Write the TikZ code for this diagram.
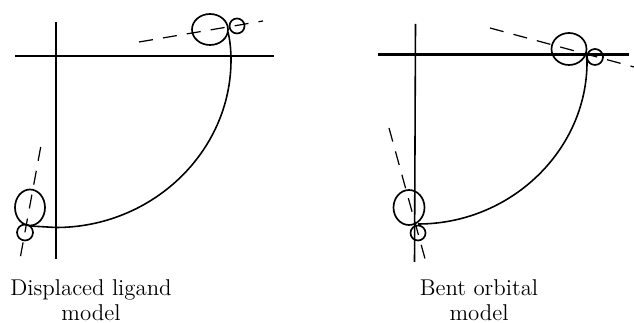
\documentclass[tikz,border=0pt]{standalone}
\usepackage{tikz}
\usetikzlibrary{shapes.geometric}
\tikzset{
  axisline/.style ={draw,line width=1.15pt},
  axislinev/.style={draw,line width=0.9pt},
  lobe/.style     ={draw,ellipse,inner sep=0pt,line width=0.95pt},
  bondaxis/.style ={draw,line width=0.7pt,dash pattern=on 8pt off 5.8pt},
  orbital/.style  ={draw,line width=0.9pt},
  caption/.style  ={font=\fontsize{13}{15}\selectfont,inner sep=0pt},
}

\begin{document}
\begin{tikzpicture}[x=0.02cm,y=-0.02cm]
\useasboundingbox (0,0) rectangle (634,323);

% displaced ligand
\coordinate (lxa) at (15,56);
\coordinate (lxb) at (274,56);
\coordinate (lya) at (56,22);
\coordinate (lyb) at (56,259);
\draw[axisline] (lxa) -- (lxb);
\draw[axislinev] (lya) -- (lyb);

\node[lobe,minimum width=36*0.02cm,minimum height=31*0.02cm] (ltop) at (210,29.5) {};
\node[lobe,minimum width=15*0.02cm,minimum height=15*0.02cm] (ltops) at (237,26) {};
\node[lobe,minimum width=30*0.02cm,minimum height=36*0.02cm] (lbot) at (30,207.5) {};
\node[lobe,minimum width=16*0.02cm,minimum height=16*0.02cm] (lbots) at (25,232.5) {};

\coordinate (ltopa) at (139,42);
\coordinate (ltopb) at (263,21);
\coordinate (lbota) at (40.7,147);
\coordinate (lbotb) at (20,259);
\draw[bondaxis] (ltopa) -- (ltopb);
\draw[bondaxis] (lbota) -- (lbotb);

\coordinate (lcs) at (228,32);
\coordinate (lcm) at (231,60);
\coordinate (lcb) at (56,227.5);
\coordinate (lce) at (30,226);
\draw[orbital] (lcs) .. controls (230,40) and (231,50) .. (lcm)
  .. controls (231,152) and (152,227.5) .. (lcb)
  -- (lce);

\node[caption] (ltxt) at (91,290) {Displaced ligand};
\node[caption] (ltxtb) at (91,312.5) {model};

% bent orbital
\coordinate (rxa) at (378,54.5);
\coordinate (rxb) at (629,54.5);
\coordinate (rya) at (415.5,24);
\coordinate (ryb) at (414.5,262);
\draw[axisline] (rxa) -- (rxb);
\draw[axislinev] (rya) -- (ryb);

\node[lobe,minimum width=35*0.02cm,minimum height=32*0.02cm] (rtop) at (569,49) {};
\node[lobe,minimum width=16*0.02cm,minimum height=16*0.02cm] (rtops) at (595,57) {};
\node[lobe,minimum width=31*0.02cm,minimum height=35*0.02cm] (rbot) at (409,207.5) {};
\node[lobe,minimum width=15*0.02cm,minimum height=15*0.02cm] (rbots) at (418,233) {};

\coordinate (rtopa) at (490,28);
\coordinate (rtopb) at (634,67);
\coordinate (rbota) at (389,128);
\coordinate (rbotb) at (427,266);
\draw[bondaxis] (rtopa) -- (rtopb);
\draw[bondaxis] (rbota) -- (rbotb);

\coordinate (rcs) at (586,52);
\coordinate (rcm) at (587,62);
\coordinate (rce) at (418,224);
\draw[orbital] (rcs) -- (rcm)
  .. controls (587,150) and (511,224) .. (rce);

\node[caption] (rtxt) at (479,288) {Bent orbital};
\node[caption] (rtxtb) at (479,312.5) {model};

\end{tikzpicture}
\end{document}
